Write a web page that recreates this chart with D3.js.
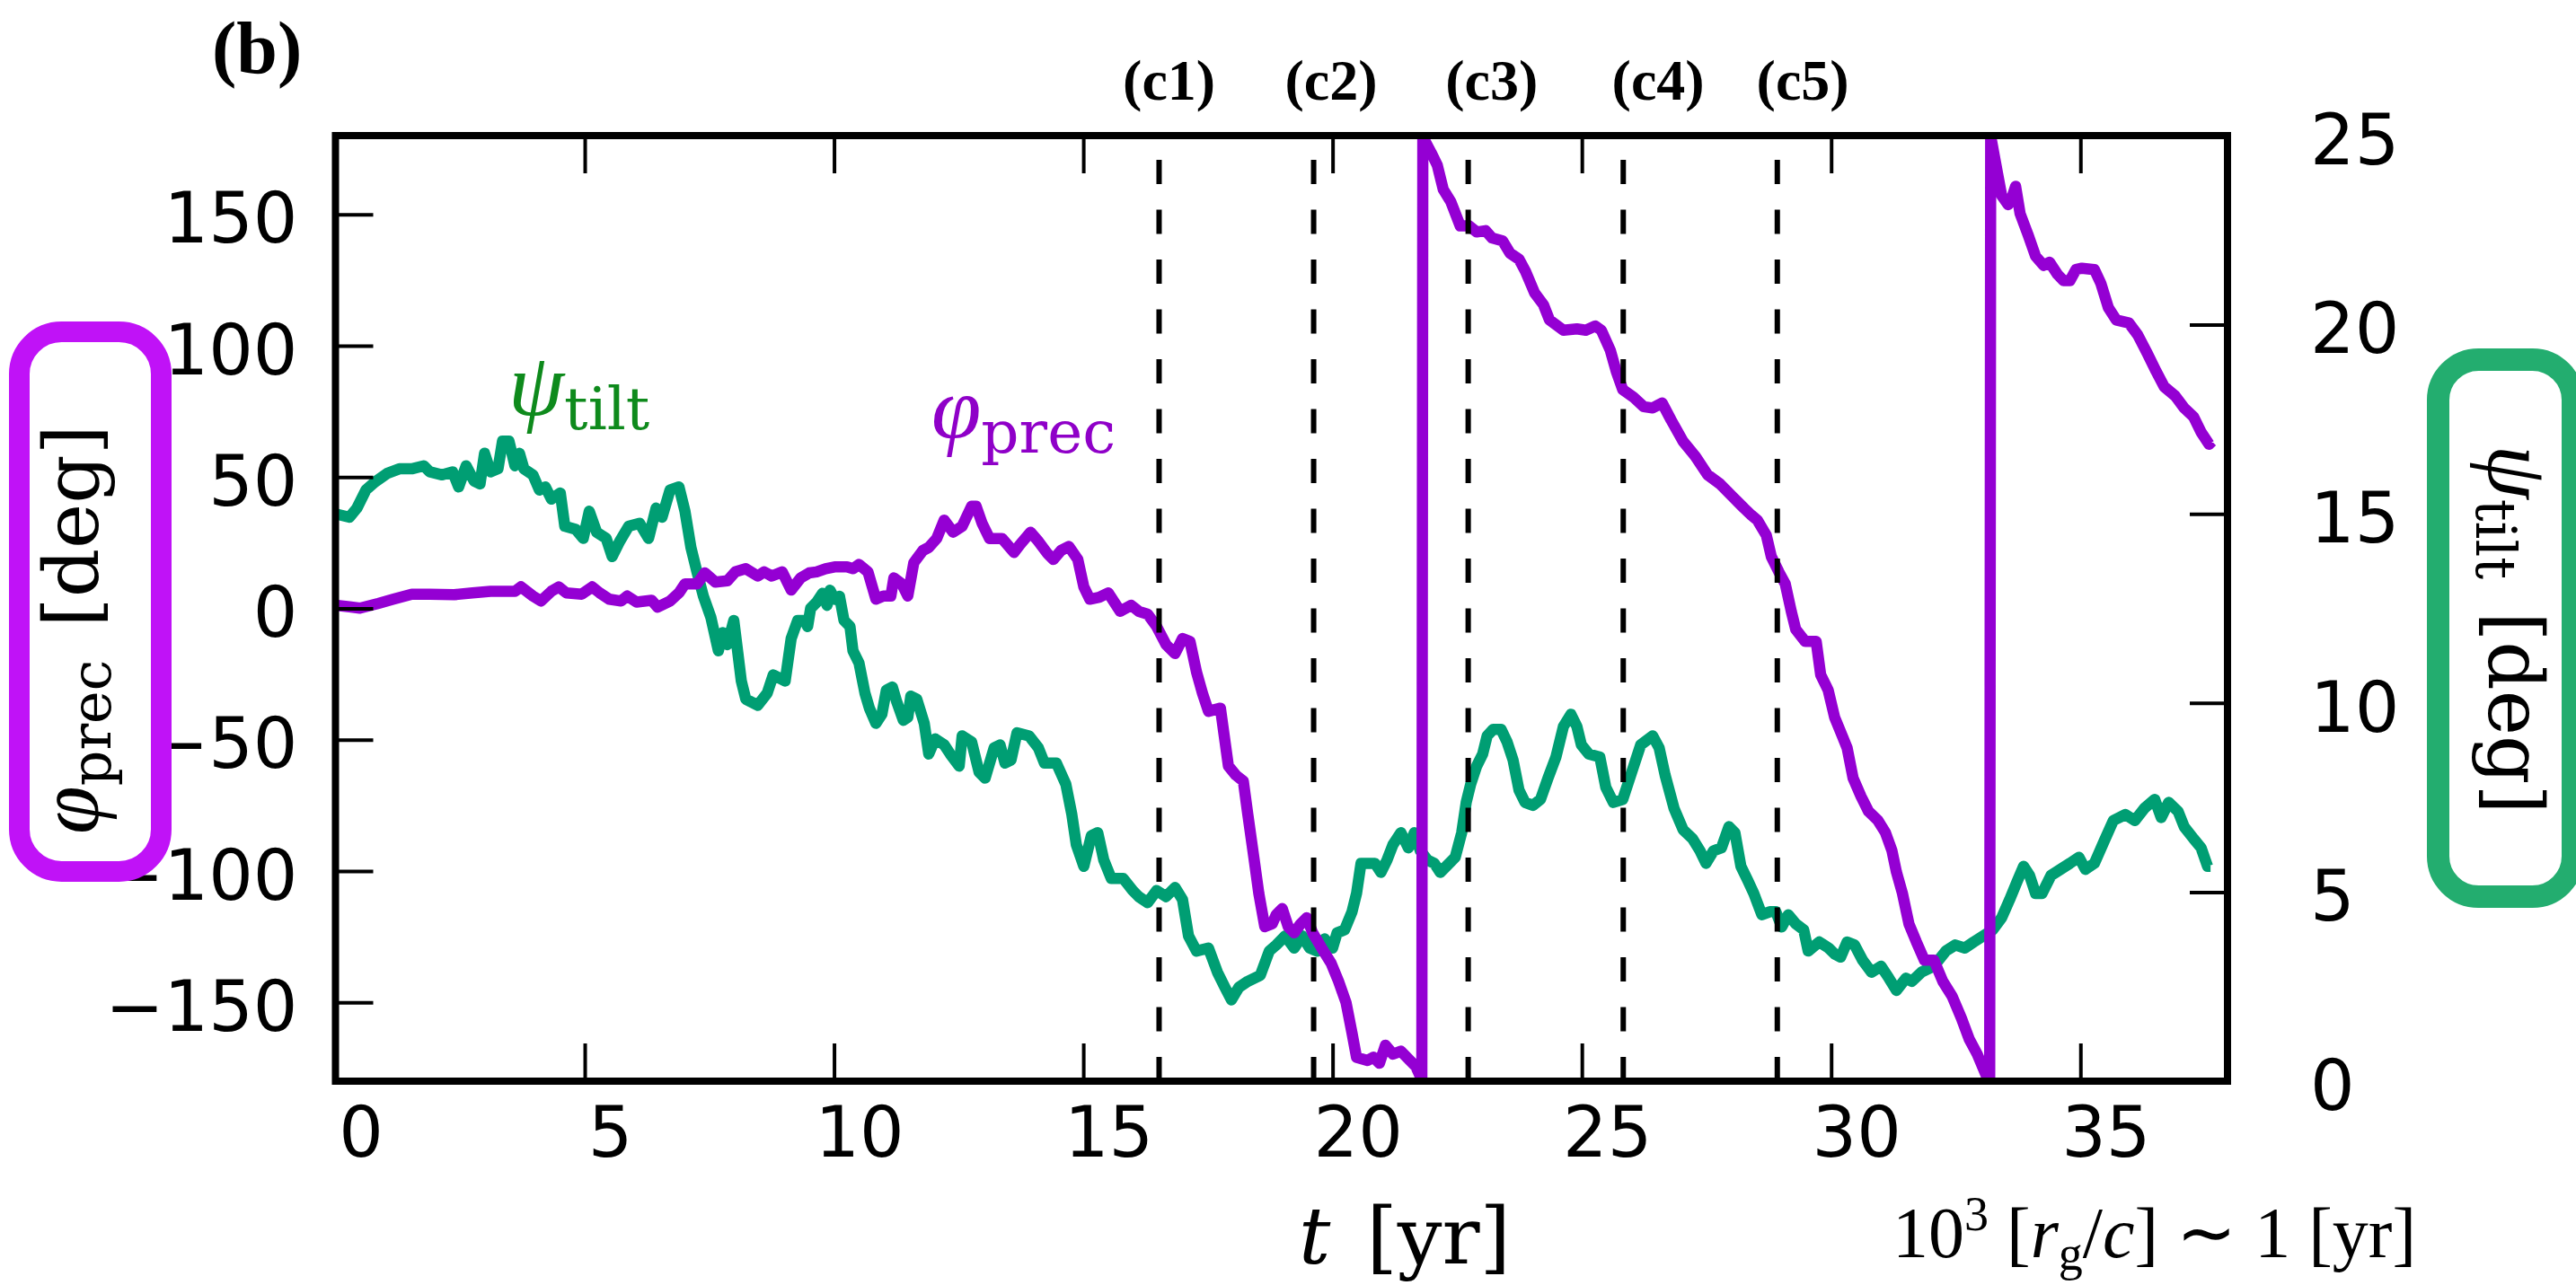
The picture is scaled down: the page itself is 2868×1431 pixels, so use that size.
<!DOCTYPE html>
<html><head><meta charset="utf-8">
<script src="https://cdn.jsdelivr.net/npm/d3@7"></script>
<style>html,body{margin:0;padding:0;background:#fff;} svg{display:block}</style>
</head><body>
<svg id="chart" width="2868" height="1431"></svg>
<script>
// ---- data ----
const tPrec = [0,0.28,0.49,0.86,1.16,1.53,1.89,2.38,2.75,3.11,3.29,3.6,3.72,3.96,4.12,4.33,4.48,4.63,4.94,5.15,5.3,5.49,5.73,5.85,6.04,6.34,6.46,6.71,6.89,7.01,7.25,7.41,7.62,7.86,8.02,8.23,8.47,8.6,8.75,8.96,9.14,9.33,9.5,9.65,9.83,10.01,10.26,10.38,10.5,10.68,10.84,10.99,11.14,11.2,11.36,11.48,11.6,11.78,11.9,12.06,12.21,12.39,12.57,12.76,12.85,12.97,13.12,13.37,13.61,13.73,13.94,14.1,14.28,14.4,14.55,14.71,14.89,15.01,15.13,15.32,15.5,15.74,15.96,16.11,16.29,16.47,16.66,16.84,16.99,17.14,17.27,17.39,17.51,17.75,17.91,18.06,18.21,18.3,18.42,18.52,18.64,18.79,18.87,18.99,19.11,19.23,19.36,19.48,19.6,19.78,19.97,20.12,20.27,20.39,20.48,20.7,20.82,20.94,21.06,21.21,21.37,21.55,21.67,21.79,21.81,21.98,22.1,22.22,22.37,22.56,22.74,22.89,23.07,23.2,23.41,23.56,23.74,23.87,24.05,24.23,24.35,24.63,24.9,25.08,25.27,25.39,25.57,25.69,25.82,26.03,26.24,26.42,26.61,26.79,27.03,27.28,27.52,27.77,28.01,28.25,28.4,28.52,28.7,28.8,28.95,29.08,29.2,29.29,29.48,29.7,29.79,29.94,30.07,30.22,30.32,30.44,30.6,30.75,30.94,31.09,31.22,31.31,31.43,31.56,31.71,31.87,32.06,32.24,32.43,32.61,32.77,32.93,33.11,33.18,33.2,33.33,33.42,33.55,33.64,33.7,33.79,33.95,34.1,34.26,34.38,34.54,34.66,34.79,34.91,35.03,35.28,35.41,35.56,35.72,35.97,36.15,36.34,36.52,36.68,36.9,37.08,37.27,37.42,37.58,37.64];
const phiPrec = [1.2,0.6,0.1,1.9,3.5,5.4,5.4,5.2,5.9,6.5,6.5,6.5,8.2,4.7,2.8,6.5,8.2,5.9,5.4,8.2,5.9,3.5,2.8,4.7,2.4,3.1,0.5,2.8,5.9,9.3,9.3,13.5,10.0,10.5,13.9,15.1,12.3,13.9,12.3,13.9,7.0,11.6,13.5,13.9,15.1,15.8,15.8,15.1,16.7,13.9,3.5,4.7,4.7,11.6,9.3,4.7,17.4,22.0,23.2,26.6,33.6,29.0,31.3,38.9,38.9,32.4,26.6,26.6,21.3,24.3,29.0,25.5,20.9,18.6,22.0,23.6,18.6,8.2,3.5,4.2,5.9,-1.1,1.2,-1.1,-2.2,-6.9,-13.8,-17.2,-11.5,-12.6,-24.2,-32.3,-39.2,-38.0,-60.0,-63.5,-65.8,-78.5,-94.7,-108.5,-121.2,-120.1,-116.6,-114.3,-121.2,-123.5,-120.1,-117.8,-123.5,-129.3,-135.1,-142.0,-150.1,-161.7,-170.9,-172.1,-170.9,-173.2,-166.3,-169.7,-168.6,-172.1,-174.4,-179.5,179.5,173.4,168.7,159.5,154.9,145.6,145.6,143.3,143.8,141.0,139.9,135.2,132.9,128.3,120.2,115.6,109.8,105.9,106.4,105.9,107.5,105.9,98.3,90.2,83.3,80.5,76.8,76.3,78.2,71.7,63.6,57.8,50.9,47.4,42.8,38.2,35.5,33.6,27.8,19.7,13.9,9.3,-1.1,-8.0,-12.6,-12.6,-25.3,-31.1,-41.5,-48.4,-53.1,-64.6,-71.6,-77.3,-80.8,-85.4,-92.3,-100.4,-108.5,-120.1,-127.0,-133.9,-133.9,-142.0,-147.8,-155.9,-164.0,-169.7,-177.8,-179.8,179.8,166.4,157.2,153.7,157.2,160.7,150.3,142.2,134.1,130.6,131.8,127.2,124.8,124.8,129.0,129.5,129.0,123.7,114.5,109.8,108.7,104.1,97.1,90.2,84.4,80.9,76.3,72.9,67.1,62.5,63.6];
const tTilt = [0,0.28,0.43,0.61,0.79,1.04,1.28,1.53,1.77,1.89,2.14,2.35,2.47,2.62,2.78,2.9,2.99,3.11,3.26,3.35,3.48,3.6,3.69,3.78,3.96,4.09,4.21,4.33,4.51,4.6,4.82,4.97,5.09,5.24,5.43,5.55,5.7,5.88,6.1,6.28,6.43,6.55,6.71,6.89,7.01,7.13,7.25,7.38,7.53,7.68,7.77,7.86,7.99,8.14,8.23,8.47,8.66,8.78,9.02,9.14,9.27,9.41,9.47,9.53,9.65,9.77,9.86,9.92,10.01,10.11,10.2,10.32,10.38,10.5,10.62,10.71,10.84,10.96,11.05,11.17,11.26,11.39,11.48,11.54,11.66,11.81,11.9,12.03,12.21,12.33,12.51,12.57,12.76,12.91,13.03,13.21,13.33,13.43,13.55,13.67,13.91,14.1,14.22,14.46,14.65,14.77,14.86,15.01,15.16,15.29,15.41,15.56,15.8,15.99,16.11,16.29,16.47,16.66,16.84,16.99,17.11,17.27,17.51,17.69,17.84,17.97,18.12,18.3,18.55,18.73,18.87,19.05,19.23,19.39,19.54,19.69,19.84,20.0,20.09,20.24,20.39,20.48,20.57,20.7,20.85,20.97,21.09,21.21,21.37,21.52,21.64,21.76,21.91,22.04,22.16,22.28,22.46,22.59,22.68,22.77,22.89,23.01,23.1,23.22,23.38,23.5,23.62,23.74,23.86,24.02,24.17,24.32,24.48,24.63,24.78,24.9,24.99,25.14,25.36,25.48,25.63,25.82,26.0,26.18,26.42,26.55,26.67,26.85,27.03,27.22,27.37,27.49,27.64,27.8,27.95,28.07,28.19,28.33,28.45,28.61,28.77,28.89,29.01,29.14,29.29,29.45,29.54,29.76,29.95,30.07,30.19,30.32,30.47,30.63,30.81,31.0,31.16,31.31,31.5,31.62,31.81,32.06,32.3,32.49,32.68,32.86,33.05,33.24,33.42,33.58,33.73,33.86,33.98,34.1,34.23,34.41,34.6,34.79,34.97,35.1,35.28,35.47,35.66,35.9,36.09,36.28,36.49,36.62,36.77,36.96,37.08,37.27,37.42,37.55,37.61];
const psiTilt = [15.0,14.91,15.15,15.63,15.84,16.07,16.19,16.19,16.27,16.11,16.03,16.11,15.71,16.27,15.87,15.79,16.6,16.11,16.19,16.92,16.92,16.27,16.6,16.19,16.03,15.63,15.71,15.39,15.55,14.67,14.59,14.35,15.07,14.51,14.35,13.87,14.27,14.67,14.75,14.35,15.15,14.91,15.63,15.71,15.07,14.11,13.47,12.82,12.26,11.38,11.86,11.54,12.18,10.58,10.1,9.94,10.26,10.74,10.58,11.7,12.18,12.18,12.02,12.5,12.66,12.9,12.58,12.98,12.74,12.82,12.18,12.02,11.38,11.06,10.26,9.86,9.46,9.7,10.34,10.42,10.02,9.54,9.62,10.18,10.1,9.46,8.65,9.05,8.89,8.65,8.33,9.13,8.97,8.17,8.01,8.81,8.89,8.41,8.49,9.21,9.13,8.81,8.41,8.41,7.85,7.05,6.25,5.68,6.49,6.57,5.85,5.36,5.36,5.04,4.88,4.72,5.04,4.88,5.12,4.8,3.84,3.44,3.52,2.88,2.48,2.15,2.48,2.64,2.8,3.44,3.6,3.84,3.52,3.84,3.52,3.44,3.76,3.52,3.92,4.0,4.48,4.96,5.76,5.76,5.76,5.52,5.84,6.25,6.57,6.17,6.57,6.09,5.84,5.76,5.52,5.68,5.92,6.57,7.37,7.85,8.33,8.65,9.13,9.3,9.3,8.97,8.49,7.69,7.37,7.29,7.45,8.01,8.57,9.38,9.7,9.38,8.89,8.65,8.57,7.77,7.37,7.45,8.17,8.89,9.13,8.81,8.09,7.21,6.65,6.41,6.09,5.76,6.09,6.17,6.73,6.57,5.68,5.3,4.96,4.4,4.48,4.48,4.08,4.4,4.16,4.0,3.44,3.68,3.52,3.36,3.28,3.68,3.6,3.2,2.88,3.04,2.72,2.4,2.72,2.64,2.88,3.04,3.44,3.6,3.52,3.68,3.84,4.0,4.32,4.8,5.28,5.68,5.44,4.96,4.96,5.44,5.6,5.76,5.92,5.6,5.76,6.33,6.89,7.05,6.89,7.21,7.45,6.97,7.37,7.13,6.73,6.41,6.17,5.68,5.68];
const xTicks = [0,5,10,15,20,25,30,35];
const leftTicks = [-150,-100,-50,0,50,100,150];
const rightTicks = [0,5,10,15,20,25];
const snapTimes = [16.52,19.62,22.72,25.83,28.92];
const snapLabels = ["(c1)","(c2)","(c3)","(c4)","(c5)"];
const snapLabelTimes = [16.72,19.97,23.19,26.53,29.43];

// ---- layout ----
const L=373.5, R=2480, T=151, B=1204;
const svg = d3.select("#chart");
const x = d3.scaleLinear().domain([0,37.95]).range([L,R]);
const yL = d3.scaleLinear().domain([-180,180]).range([B,T]);
const yR = d3.scaleLinear().domain([0,25]).range([B,T]);

svg.append("rect").attr("width",2868).attr("height",1431).attr("fill","#fff");
svg.append("defs").append("clipPath").attr("id","clip")
  .append("rect").attr("x",L).attr("y",T).attr("width",R-L).attr("height",B-T);

const plot = svg.append("g").attr("clip-path","url(#clip)");
plot.append("path").datum(d3.zip(tTilt,psiTilt))
  .attr("d", d3.line().x(d=>x(d[0])).y(d=>yR(d[1])))
  .attr("fill","none").attr("stroke","#009e73").attr("stroke-width",12.5)
  .attr("stroke-linejoin","round");
plot.append("path").datum(d3.zip(tPrec,phiPrec))
  .attr("d", d3.line().x(d=>x(d[0])).y(d=>yL(d[1])))
  .attr("fill","none").attr("stroke","#9400d3").attr("stroke-width",12.5)
  .attr("stroke-linejoin","round");
plot.selectAll("line.snap").data(snapTimes).join("line").attr("class","snap")
  .attr("x1",d=>x(d)).attr("x2",d=>x(d)).attr("y1",B).attr("y2",T)
  .attr("stroke","#000").attr("stroke-width",6).attr("stroke-dasharray","27 28.5");

// ---- axes ----
function styleAxis(g){
  g.select(".domain").remove();
  g.selectAll(".tick line").attr("stroke","#000").attr("stroke-width",4);
  g.attr("font-family","DejaVu Sans").attr("font-size",78);
  g.selectAll("text").attr("fill","#000");
}
const gB = svg.append("g").attr("transform",`translate(0,${B})`)
  .call(d3.axisBottom(x).tickValues(xTicks).tickSize(-42).tickSizeOuter(0).tickPadding(29));
styleAxis(gB); gB.selectAll("text").attr("dx",28);
const gT = svg.append("g").attr("transform",`translate(0,${T})`)
  .call(d3.axisTop(x).tickValues(xTicks).tickSize(-42).tickSizeOuter(0).tickFormat(()=>""));
styleAxis(gT);
const gL = svg.append("g").attr("transform",`translate(${L},0)`)
  .call(d3.axisLeft(yL).tickValues(leftTicks).tickSize(-42).tickSizeOuter(0).tickPadding(42));
styleAxis(gL); gL.selectAll("text").attr("dy","0.4em");
const gR = svg.append("g").attr("transform",`translate(${R},0)`)
  .call(d3.axisRight(yR).tickValues(rightTicks).tickSize(-42).tickSizeOuter(0).tickPadding(92));
styleAxis(gR); gR.selectAll("text").attr("dy","0.4em");

svg.append("rect").attr("x",L).attr("y",T).attr("width",R-L).attr("height",B-T)
  .attr("fill","none").attr("stroke","#000").attr("stroke-width",8);

// ---- text helpers ----
const CM = "DejaVu Serif";
const TM = "Liberation Serif";
function rich(parent, parts, opts){
  const t = parent.append("text").attr("x",opts.x||0).attr("y",opts.y||0)
    .attr("font-family",opts.family).attr("fill",opts.fill||"#000")
    .attr("text-anchor",opts.anchor||"start");
  if (opts.transform) t.attr("transform",opts.transform);
  parts.forEach(p=>{
    const s = t.append("tspan").text(p.s).attr("font-size",p.size)
      .attr("font-style",p.it?"italic":"normal");
    if (p.fam) s.attr("font-family",p.fam);
    if (p.dy) s.attr("dy",p.dy);
    if (p.dx) s.attr("dx",p.dx);
    if (p.bold) s.attr("font-weight","bold");
  });
  return t;
}

// panel label & snapshot labels
svg.append("text").attr("x",236).attr("y",81).attr("font-family",TM)
  .attr("font-weight","bold").attr("font-size",82).text("(b)");
svg.selectAll("text.snaplab").data(snapLabels).join("text").attr("class","snaplab")
  .attr("x",(d,i)=>x(snapLabelTimes[i])).attr("y",111).attr("text-anchor","middle")
  .attr("font-family",TM).attr("font-weight","bold").attr("font-size",64).text(d=>d);

// in-plot series labels
rich(svg,[{s:"ψ",size:100,it:true,fam:TM},{s:"tilt",size:66,dy:16}],
  {x:566,y:462,family:CM,fill:"#0e8a1c"});
rich(svg,[{s:"φ",size:100,it:true,fam:TM},{s:"prec",size:66,dy:16}],
  {x:1037,y:488,family:CM,fill:"#8f00c8"});

// x-axis title
rich(svg,[{s:"t",size:88,it:true},{s:"[yr]",size:88,dx:40}],
  {x:1446,y:1407,family:CM});
// unit note
rich(svg,[{s:"10",size:80},{s:"3",size:54,dy:-30},{s:" [",size:80,dy:30},{s:"r",size:80,it:true},
  {s:"g",size:54,dy:14},{s:"/",size:80,dy:-14},{s:"c",size:80,it:true},{s:"] ∼ 1 [yr]",size:80}],
  {x:2107,y:1400,family:TM});

// boxed axis labels
svg.append("rect").attr("x",21.5).attr("y",369.5).attr("width",158).attr("height",601)
  .attr("rx",47).attr("fill","none").attr("stroke","#c012f7").attr("stroke-width",23);
svg.append("rect").attr("x",2714.5).attr("y",400.5).attr("width",150).attr("height",598)
  .attr("rx",45).attr("fill","none").attr("stroke","#23ad6f").attr("stroke-width",25);
rich(svg,[{s:"φ",size:97,it:true,fam:TM},{s:"prec",size:62,dy:14},{s:"[deg]",size:85,dy:-14,dx:36}],
  {family:CM,anchor:"middle",transform:"translate(109,701) rotate(-90)"});
rich(svg,[{s:"ψ",size:97,it:true,fam:TM},{s:"tilt",size:62,dy:14},{s:"[deg]",size:85,dy:-14,dx:36}],
  {family:CM,anchor:"middle",transform:"translate(2771,701) rotate(90)"});
</script>
</body></html>
